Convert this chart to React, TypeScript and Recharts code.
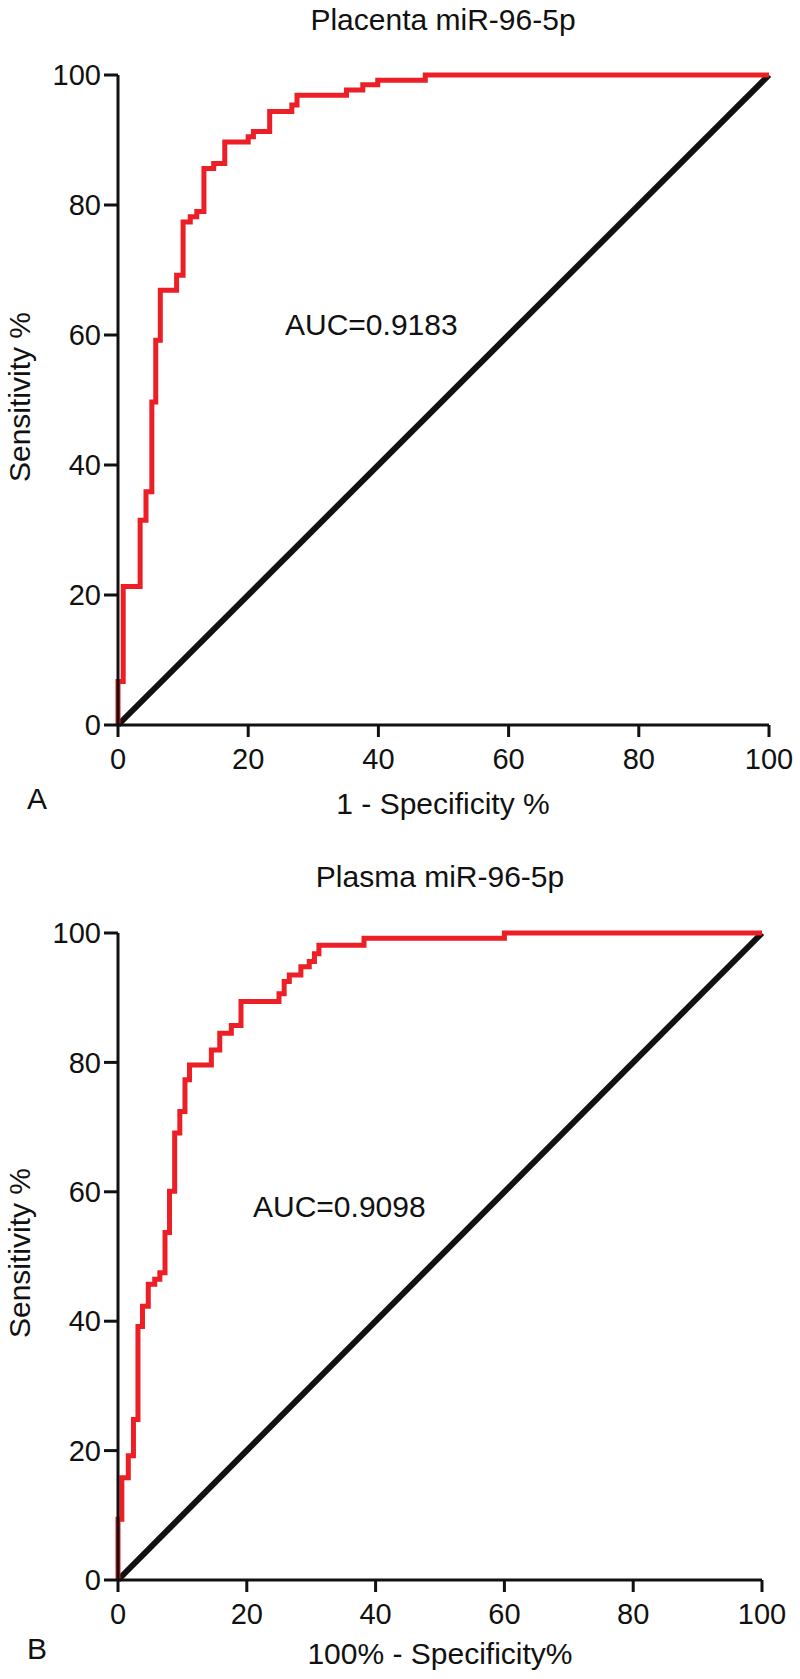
import { LineChart, Line, XAxis, YAxis } from "recharts";

const TICKS = [0, 20, 40, 60, 80, 100];

// chance line
const CHANCE_X = [0, 100];
const CHANCE_Y = [0, 100];

// ROC corners (drawn stepBefore: up first, then across)
const PLACENTA_FPR = [0, 0.8, 3.4, 4.3, 5.2, 5.8, 6.5, 9.0, 10.0, 11.1, 12.1, 13.2, 14.7, 16.4, 20.0, 20.8, 23.3, 26.7, 27.5, 35.1, 37.6, 39.9, 47.2, 100];
const PLACENTA_SENS = [0, 6.7, 21.3, 31.5, 35.9, 49.7, 59.2, 66.9, 69.2, 77.4, 78.2, 79.0, 85.6, 86.4, 89.7, 90.5, 91.3, 94.4, 95.4, 96.9, 97.7, 98.5, 99.2, 100];

const PLASMA_FPR = [0, 0.6, 1.6, 2.4, 3.1, 3.8, 4.7, 5.7, 6.5, 7.3, 8.0, 8.8, 9.6, 10.4, 11.1, 14.5, 15.8, 17.6, 19.1, 25.0, 25.8, 26.6, 28.4, 29.7, 30.5, 31.2, 38.2, 60, 100];
const PLASMA_SENS = [0, 9.4, 15.8, 19.2, 24.8, 39.2, 42.3, 45.7, 46.5, 47.5, 53.7, 60.1, 69.1, 72.4, 77.3, 79.6, 81.9, 84.5, 85.7, 89.4, 90.6, 92.5, 93.5, 94.8, 95.6, 96.8, 98.1, 99.2, 100];

const FONT = "'Liberation Sans', Arial, Helvetica, sans-serif";
const RED = "#ec1f26";
const INK = "#111";

const toPoints = (xs: number[], ys: number[]) => xs.map((x, i) => ({ x, y: ys[i] }));

type PanelProps = {
  top: number;
  height: number;
  marginTop: number;
  marginRight: number;
  xAxisHeight: number;
  fpr: number[];
  sens: number[];
  title: string;
  titleX: number;
  titleY: number;
  letter: string;
  xLabel: string;
  xLabelX: number;
  bottomY: number;
  yLabelY: number;
  auc: string;
  aucX: number;
  aucY: number;
};

function RocPanel(p: PanelProps) {
  const axisStyle = { stroke: INK, strokeWidth: 3 };
  const tickStyle = { fill: INK, fontSize: 29, fontFamily: FONT };
  return (
    <div style={{ position: "absolute", left: 0, top: p.top, width: 800, height: p.height }}>
      <LineChart
        width={800}
        height={p.height}
        margin={{ top: p.marginTop, right: p.marginRight, bottom: 0, left: 0 }}
      >
        <XAxis
          type="number"
          dataKey="x"
          domain={[0, 100]}
          ticks={TICKS}
          height={p.xAxisHeight}
          tickSize={12}
          tickMargin={11}
          axisLine={axisStyle}
          tickLine={axisStyle}
          tick={tickStyle}
        />
        <YAxis
          type="number"
          domain={[0, 100]}
          ticks={TICKS}
          width={118}
          tickSize={14}
          tickMargin={3}
          axisLine={axisStyle}
          tickLine={axisStyle}
          tick={tickStyle}
        />
        <XAxis xAxisId="top" orientation="top" type="number" domain={[0, 100]} height={0} tick={false} tickLine={false} axisLine={axisStyle} />
        <YAxis yAxisId="right" orientation="right" type="number" domain={[0, 100]} width={0} tick={false} tickLine={false} axisLine={axisStyle} />
        <Line
          data={toPoints(CHANCE_X, CHANCE_Y)}
          dataKey="y"
          type="linear"
          stroke={INK}
          strokeWidth={6}
          dot={false}
          isAnimationActive={false}
        />
        <Line
          data={toPoints(p.fpr, p.sens)}
          dataKey="y"
          type="stepBefore"
          stroke={RED}
          strokeWidth={5}
          dot={false}
          isAnimationActive={false}
        />
      </LineChart>
      <svg
        width={800}
        height={p.height}
        style={{ position: "absolute", left: 0, top: 0, pointerEvents: "none" }}
        fontFamily={FONT}
        fontSize={30}
        fill={INK}
      >
        <text x={p.titleX} y={p.titleY} textAnchor="middle">{p.title}</text>
        <text x={30} y={p.yLabelY} textAnchor="middle" transform={`rotate(-90 30 ${p.yLabelY})`}>
          Sensitivity %
        </text>
        <text x={p.aucX} y={p.aucY}>{p.auc}</text>
        <text x={37} y={p.bottomY - 5} textAnchor="middle">{p.letter}</text>
        <text x={p.xLabelX} y={p.bottomY} textAnchor="middle">{p.xLabel}</text>
      </svg>
    </div>
  );
}

export default function App() {
  return (
    <div style={{ position: "absolute", left: 0, top: 0, width: 800, height: 1679, background: "#fff" }}>
      <RocPanel
        top={0}
        height={840}
        marginTop={75}
        marginRight={31}
        xAxisHeight={115}
        fpr={PLACENTA_FPR}
        sens={PLACENTA_SENS}
        title="Placenta miR-96-5p"
        titleX={443}
        titleY={30}
        letter="A"
        xLabel="1 - Specificity %"
        xLabelX={443}
        bottomY={814}
        yLabelY={397}
        auc="AUC=0.9183"
        aucX={285}
        aucY={335}
      />
      <RocPanel
        top={840}
        height={839}
        marginTop={93}
        marginRight={38}
        xAxisHeight={99}
        fpr={PLASMA_FPR}
        sens={PLASMA_SENS}
        title="Plasma miR-96-5p"
        titleX={440}
        titleY={47}
        letter="B"
        xLabel="100% - Specificity%"
        xLabelX={440}
        bottomY={824}
        yLabelY={413}
        auc="AUC=0.9098"
        aucX={253}
        aucY={377}
      />
    </div>
  );
}
